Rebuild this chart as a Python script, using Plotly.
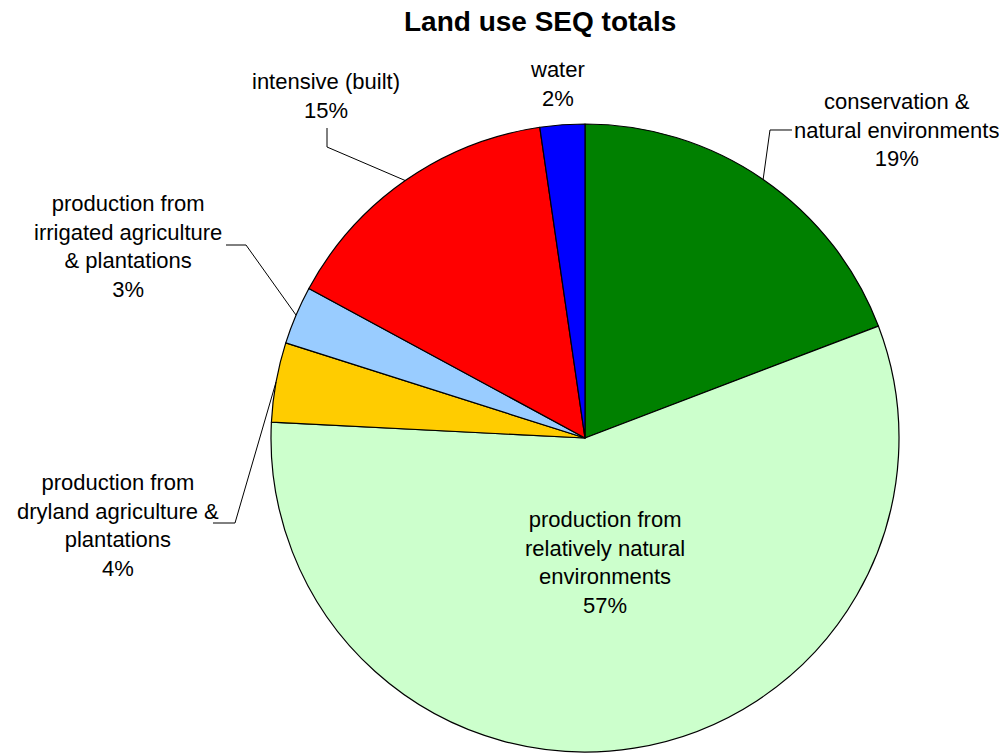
import math
import plotly.graph_objects as go

# ---- data ----
categories = [
    "conservation &<br>natural environments",
    "production from<br>relatively natural<br>environments",
    "production from<br>dryland agriculture &<br>plantations",
    "production from<br>irrigated agriculture<br>& plantations",
    "intensive (built)",
    "water",
]
values = [19.2, 56.6, 4.1, 3.0, 14.8, 2.3]
colors = ["#008000", "#CCFFCC", "#FFCC00", "#99CCFF", "#FF0000", "#0000FF"]

# ---- layout (pixels) ----
W, H = 999, 753
CX, CY, R = 585, 438, 314
FONT = "Arial, 'Liberation Sans', sans-serif"

# label centres (px) ; None -> placed inside along mid angle
label_pos = [(896, 130), None, (118, 525), (128, 247), (326, 96), (557, 84)]
inside_factor = 0.4
# leader line elbow / end points (px)
leaders = [
    [(770, 130), (792, 130)],
    None,
    [(235, 523), (213, 523)],
    [(246, 245), (226, 245)],
    [(327, 147), (327, 128)],
    None,
]


def px(x):
    return x / W


def py(y):
    return 1 - y / H


fig = go.Figure(
    go.Pie(
        values=values,
        labels=[c.replace("<br>", " ") for c in categories],
        marker=dict(colors=colors, line=dict(color="black", width=1.2)),
        sort=False,
        direction="clockwise",
        rotation=0,
        textinfo="none",
        hoverinfo="label+percent",
        showlegend=False,
        domain=dict(x=[px(CX - R), px(CX + R)], y=[py(CY + R), py(CY - R)]),
    )
)

total = sum(values)
annotations = []
shapes = []
cum = 0.0
for i, (cat, v) in enumerate(zip(categories, values)):
    mid = (cum + v / 2) / total * 2 * math.pi
    cum += v
    pct = f"{round(v / total * 100)}%"
    text = f"{cat}<br>{pct}"
    if label_pos[i] is None:
        lx = CX + inside_factor * R * math.sin(mid)
        ly = CY - inside_factor * R * math.cos(mid)
    else:
        lx, ly = label_pos[i]
    annotations.append(
        dict(
            x=px(lx), y=py(ly), xref="paper", yref="paper",
            text=text, showarrow=False, xanchor="center", yanchor="middle",
            align="center", font=dict(family=FONT, size=22, color="black"),
        )
    )
    if leaders[i] is not None:
        sx = CX + R * math.sin(mid)
        sy = CY - R * math.cos(mid)
        pts = [(sx, sy)] + leaders[i]
        path = "M " + " L ".join(f"{px(a):.5f},{py(b):.5f}" for a, b in pts)
        shapes.append(
            dict(type="path", path=path, xref="paper", yref="paper",
                 line=dict(color="black", width=1))
        )

annotations.append(
    dict(
        x=px(540), y=py(22), xref="paper", yref="paper",
        text="<b>Land use SEQ totals</b>", showarrow=False,
        xanchor="center", yanchor="middle",
        font=dict(family=FONT, size=28, color="black"),
    )
)

fig.update_layout(
    width=W, height=H,
    margin=dict(l=0, r=0, t=0, b=0),
    paper_bgcolor="white", plot_bgcolor="white",
    annotations=annotations, shapes=shapes,
)

fig.write_html(
    "out.html",
    config={"displayModeBar": False},
    post_script="document.body.style.margin='0';document.body.style.overflow='hidden';",
)
